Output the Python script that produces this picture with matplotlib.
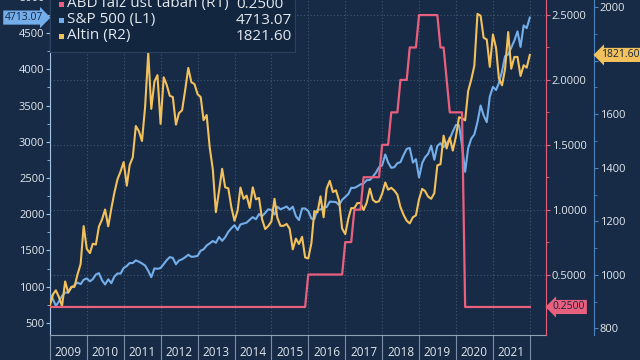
import pandas as pd
import matplotlib.pyplot as plt
import matplotlib.dates as mdates
import matplotlib.ticker as mticker
import matplotlib.transforms as mtransforms
from matplotlib.patches import Rectangle

plt.rcParams['font.family'] = ['Open Sans', 'DejaVu Sans']

# monthly closes, Dec 2008 - Dec 2021
dates = pd.date_range("2008-12-31", "2021-12-31", freq="ME")

sp500 = [903,
         826, 735, 798, 873, 919, 919, 987, 1021, 1057, 1036, 1096, 1115,
         1074, 1104, 1169, 1187, 1089, 1031, 1102, 1049, 1141, 1183, 1181, 1258,
         1286, 1327, 1326, 1364, 1345, 1321, 1292, 1219, 1131, 1253, 1247, 1258,
         1312, 1366, 1408, 1398, 1310, 1362, 1379, 1407, 1441, 1412, 1416, 1426,
         1498, 1515, 1569, 1598, 1631, 1606, 1686, 1633, 1682, 1757, 1806, 1848,
         1783, 1859, 1872, 1884, 1924, 1960, 1931, 2003, 1972, 2018, 2068, 2059,
         1995, 2105, 2068, 2086, 2107, 2063, 2104, 1972, 1920, 2079, 2080, 2044,
         1940, 1932, 2060, 2065, 2097, 2099, 2174, 2171, 2168, 2126, 2199, 2239,
         2279, 2364, 2363, 2384, 2412, 2423, 2470, 2472, 2519, 2575, 2648, 2674,
         2824, 2714, 2641, 2648, 2705, 2718, 2816, 2902, 2914, 2712, 2760, 2507,
         2704, 2784, 2834, 2946, 2752, 2942, 2980, 2926, 2977, 3038, 3141, 3231,
         3226, 2954, 2585, 2912, 3044, 3100, 3271, 3500, 3363, 3270, 3622, 3756,
         3714, 3811, 3973, 4181, 4204, 4298, 4395, 4523, 4308, 4605, 4567, 4713.07]

gold = [885,
        927, 942, 916, 883, 975, 934, 955, 955, 1001, 1040, 1182, 1097,
        1081, 1116, 1113, 1180, 1207, 1244, 1181, 1248, 1307, 1357, 1386, 1421,
        1333, 1410, 1439, 1556, 1536, 1500, 1628, 1829, 1620, 1722, 1746, 1564,
        1738, 1710, 1669, 1664, 1561, 1604, 1615, 1692, 1773, 1719, 1713, 1675,
        1664, 1578, 1597, 1476, 1393, 1234, 1312, 1396, 1327, 1323, 1253, 1202,
        1240, 1326, 1284, 1296, 1250, 1327, 1282, 1287, 1208, 1171, 1182, 1199,
        1284, 1213, 1183, 1183, 1190, 1172, 1095, 1135, 1115, 1142, 1065, 1061,
        1118, 1238, 1233, 1293, 1215, 1322, 1351, 1309, 1316, 1277, 1173, 1152,
        1211, 1249, 1249, 1268, 1268, 1242, 1269, 1322, 1280, 1271, 1275, 1303,
        1345, 1318, 1325, 1315, 1299, 1253, 1224, 1202, 1192, 1215, 1222, 1282,
        1321, 1313, 1292, 1284, 1305, 1409, 1413, 1520, 1472, 1513, 1464, 1517,
        1589, 1585, 1577, 1687, 1730, 1781, 1975, 1968, 1886, 1879, 1777, 1898,
        1847, 1734, 1708, 1769, 1907, 1770, 1814, 1814, 1743, 1783, 1774, 1821.60]

fed_upper = [0.25,
             0.25, 0.25, 0.25, 0.25, 0.25, 0.25, 0.25, 0.25, 0.25, 0.25, 0.25, 0.25,
             0.25, 0.25, 0.25, 0.25, 0.25, 0.25, 0.25, 0.25, 0.25, 0.25, 0.25, 0.25,
             0.25, 0.25, 0.25, 0.25, 0.25, 0.25, 0.25, 0.25, 0.25, 0.25, 0.25, 0.25,
             0.25, 0.25, 0.25, 0.25, 0.25, 0.25, 0.25, 0.25, 0.25, 0.25, 0.25, 0.25,
             0.25, 0.25, 0.25, 0.25, 0.25, 0.25, 0.25, 0.25, 0.25, 0.25, 0.25, 0.25,
             0.25, 0.25, 0.25, 0.25, 0.25, 0.25, 0.25, 0.25, 0.25, 0.25, 0.25, 0.25,
             0.25, 0.25, 0.25, 0.25, 0.25, 0.25, 0.25, 0.25, 0.25, 0.25, 0.25, 0.50,
             0.50, 0.50, 0.50, 0.50, 0.50, 0.50, 0.50, 0.50, 0.50, 0.50, 0.50, 0.75,
             0.75, 0.75, 1.00, 1.00, 1.00, 1.25, 1.25, 1.25, 1.25, 1.25, 1.25, 1.50,
             1.50, 1.50, 1.75, 1.75, 1.75, 2.00, 2.00, 2.00, 2.25, 2.25, 2.25, 2.50,
             2.50, 2.50, 2.50, 2.50, 2.50, 2.50, 2.25, 2.25, 2.00, 1.75, 1.75, 1.75,
             1.75, 1.75, 0.25, 0.25, 0.25, 0.25, 0.25, 0.25, 0.25, 0.25, 0.25, 0.25,
             0.25, 0.25, 0.25, 0.25, 0.25, 0.25, 0.25, 0.25, 0.25, 0.25, 0.25, 0.25]

series_names = ["ABD faiz üst taban (R1)", "S&P 500 (L1)", "Altin (R2)"]
last_labels = ["0.2500", "4713.07", "1821.60"]

BG = '#172b46'
RED = '#e9607f'
BLUE = '#74aeea'
GOLD = '#f3c15b'
TXT = '#e3e8ee'
GRID = '#3f5876'
TAGTXT = '#13253e'

fig = plt.figure(figsize=(6.4, 3.6), dpi=100, facecolor=BG)
ax = fig.add_axes([50/640, 25/360, 496/640, 342/360])
ax.set_facecolor(BG)
ax_r1 = ax.twinx()
ax_r2 = ax.twinx()

ax.plot(dates, sp500, color=BLUE, lw=1.5, zorder=3)
ax_r2.plot(dates, gold, color=GOLD, lw=1.5)
ax_r1.plot(dates, fed_upper, color=RED, lw=1.6)
ax_r1.set_zorder(ax_r2.get_zorder() + 1)

ax.set_xlim(pd.Timestamp("2009-01-01"), pd.Timestamp("2022-06-09"))
ax.set_ylim(334, 5052)
ax_r1.set_ylim(0.034, 2.67)
ax_r2.set_ylim(775, 2053)

# x axis: long ticks at year boundaries, labels mid-year
ax.xaxis.set_major_locator(mdates.YearLocator())
ax.xaxis.set_major_formatter(mticker.NullFormatter())
ax.xaxis.set_minor_locator(mdates.MonthLocator(bymonth=7, bymonthday=1))
ax.xaxis.set_minor_formatter(mdates.DateFormatter('%Y'))
ax.tick_params(axis='x', which='major', length=18, width=0.8, color='#7d8fa6', direction='out')
ax.tick_params(axis='x', which='minor', length=0, pad=8, labelsize=8.5, labelcolor=TXT)

# left axis
ax.yaxis.set_major_locator(mticker.MultipleLocator(500))
ax.yaxis.set_minor_locator(mticker.MultipleLocator(250))
ax.tick_params(axis='y', which='major', length=3, color='#9fc2e6', labelsize=8, labelcolor=TXT, pad=1)
ax.tick_params(axis='y', which='minor', length=2, color='#9fc2e6')

# R1
ax_r1.yaxis.set_major_locator(mticker.MultipleLocator(0.5))
ax_r1.yaxis.set_minor_locator(mticker.MultipleLocator(0.25))
ax_r1.yaxis.set_major_formatter(mticker.FormatStrFormatter('%.4f'))
ax_r1.tick_params(axis='y', which='major', length=3, color=RED, labelsize=8, labelcolor=TXT, pad=1)
ax_r1.tick_params(axis='y', which='minor', length=2, color=RED)

# R2 (the 1800 label sits under the last-value tag)
ax_r2.spines['right'].set_position(('axes', 544/496))
ax_r2.yaxis.set_major_locator(mticker.MultipleLocator(200))
ax_r2.yaxis.set_minor_locator(mticker.MultipleLocator(100))
ax_r2.yaxis.set_major_formatter(mticker.FuncFormatter(lambda v, p: '' if abs(v - 1800) < 1 else f'{v:.0f}'))
ax_r2.tick_params(axis='y', which='major', length=3, color='#4f86c2', labelsize=8, labelcolor=TXT, pad=1)
ax_r2.tick_params(axis='y', which='minor', length=2, color='#4f86c2')

for a in (ax, ax_r1, ax_r2):
    a.spines['top'].set_visible(False)
ax.spines['right'].set_visible(False)
ax_r1.spines['left'].set_visible(False)
ax_r2.spines['left'].set_visible(False)
ax_r1.spines['bottom'].set_visible(False)
ax_r2.spines['bottom'].set_visible(False)
ax.spines['left'].set_color('#9fc2e6')
ax.spines['bottom'].set_color('#8fa0b5')
ax_r1.spines['right'].set_color(RED)
ax_r2.spines['right'].set_color('#4f86c2')

# grid: vertical at years, horizontal at R1 ticks
ax.grid(axis='x', which='major', color=GRID, linestyle=(0, (1, 2)), lw=0.8)
ax.set_axisbelow(True)
blend = mtransforms.blended_transform_factory(ax.transAxes, ax_r1.transData)
for v in [0.5, 1.0, 1.5, 2.0, 2.5]:
    ax.plot([0, 1], [v, v], transform=blend, color=GRID, linestyle=(0, (1, 2)), lw=0.8, zorder=1)

# last value tags
ax.annotate(last_labels[1], xy=(0, sp500[-1]), xycoords=('axes fraction', 'data'),
            xytext=(-5, 0), textcoords='offset points', ha='right', va='center',
            fontsize=7.5, color=TAGTXT, annotation_clip=False,
            bbox=dict(boxstyle='rarrow,pad=0.15', fc=BLUE, ec='none'))
ax_r1.annotate(last_labels[0], xy=(1, fed_upper[-1]), xycoords=('axes fraction', 'data'),
               xytext=(5, 0), textcoords='offset points', ha='left', va='center',
               fontsize=7.5, color=TAGTXT, annotation_clip=False,
               bbox=dict(boxstyle='larrow,pad=0.15', fc=RED, ec='none'))
ax_r2.annotate(last_labels[2], xy=(544/496, gold[-1]), xycoords=('axes fraction', 'data'),
               xytext=(5, 0), textcoords='offset points', ha='left', va='center',
               fontsize=7.5, color=TAGTXT, annotation_clip=False,
               bbox=dict(boxstyle='larrow,pad=0.15', fc=GOLD, ec='none'))

# legend box
fig.patches.append(Rectangle((50/640, 1 - 52/360), 245/640, 60/360, transform=fig.transFigure,
                             fc='#13263f', ec='#2b4261', lw=0.8, zorder=5))
row_y = [4, 20, 36]
for name, val, col, yy in zip(series_names, last_labels, [RED, BLUE, GOLD], row_y):
    fig.patches.append(Rectangle((58.5/640, 1 - (yy + 2.5)/360), 5/640, 5/360,
                                 transform=fig.transFigure, fc=col, ec='none', zorder=6))
    fig.text(67/640, 1 - yy/360, name, color=TXT, fontsize=11, va='center', ha='left', zorder=7)
    fig.text(236/640, 1 - yy/360, val, color=TXT, fontsize=11, va='center', ha='left', zorder=7)

fig.savefig("out.png", dpi=100, facecolor=BG)
